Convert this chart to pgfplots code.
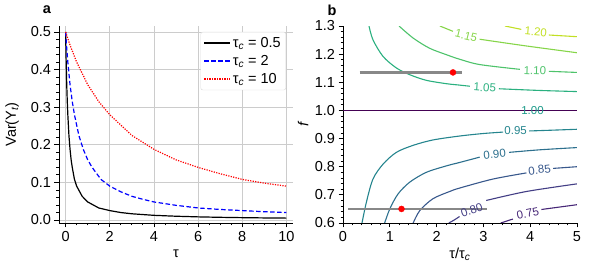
\documentclass[border=0pt]{standalone}
\usepackage{fontspec}
\setmainfont{Liberation Sans}
\usepackage{pgfplots}
\pgfplotsset{compat=1.18}
\definecolor{cA}{HTML}{472777}
\definecolor{cB}{HTML}{433E85}
\definecolor{cC}{HTML}{38588C}
\definecolor{cD}{HTML}{2D708E}
\definecolor{cE}{HTML}{25858E}
\definecolor{cF}{HTML}{1E9B8A}
\definecolor{cG}{HTML}{2AB07F}
\definecolor{cH}{HTML}{4EC36B}
\definecolor{cI}{HTML}{86D549}
\definecolor{cJ}{HTML}{C2DF23}
\definecolor{cLine}{HTML}{440154}
\definecolor{bargray}{HTML}{888888}
\newcommand{\fs}{\fontsize{14.5}{16.5}\selectfont}
\newcommand{\fl}{\fontsize{11.5}{13}\selectfont}
\pgfplotsset{
  myax/.style={
    scale only axis, width=234pt, height=197pt,
    axis lines=left, axis line style={-, line width=0.9pt, black},
    tick align=outside, tick style={black, line width=0.8pt},
    major tick length=4.5pt, minor tick length=2.5pt,
    tick label style={font=\fs},
    label style={font=\fs},
    /pgf/number format/assume math mode=true,
  }
}
\begin{document}
\begin{tikzpicture}
\useasboundingbox (-59pt,-41pt) rectangle (536pt,223pt);
\begin{axis}[myax,
  xmin=-0.3, xmax=10.3, ymin=-0.008, ymax=0.516,
  xtick={0,2,4,6,8,10}, minor x tick num=3,
  ytick={0,0.1,0.2,0.3,0.4,0.5}, minor y tick num=4,
  yticklabel style={/pgf/number format/.cd, fixed, fixed zerofill, precision=1},
  grid=major, major grid style={gray!40, line width=0.8pt},
  xlabel={τ}, ylabel={Var(Y\textsubscript{\itshape t})},
  xlabel style={at={(axis description cs:0.5,-0.155)}, anchor=center},
  ylabel style={at={(axis description cs:-0.2,0.5)}, anchor=center},
  legend style={at={(0.97,0.97)}, anchor=north east, draw=gray!30, rounded corners=2pt,
    fill=white, font=\fs, row sep=2.5pt, inner sep=3pt},
  legend cell align=left,
  legend image code/.code={\draw[#1, line width=1.4pt] (0cm,0cm) -- (0.9cm,0cm);},
]
\addplot[black, line width=1.2pt] coordinates {
(0,0.5) (0.01,0.465) (0.025,0.42) (0.05,0.36) (0.075,0.315) (0.1,0.28) (0.15,0.225)
(0.2,0.188) (0.25,0.16) (0.3,0.14) (0.4,0.108) (0.5,0.09) (0.75,0.063) (1,0.048)
(1.5,0.032) (2,0.025) (2.5,0.0198) (3,0.0165) (4,0.0124) (5,0.01) (6,0.0083)
(7,0.0071) (8,0.0062) (9,0.0055) (10,0.005)};
\addlegendentry{τ\textsubscript{\itshape c} = 0.5}
\addplot[blue, line width=1.2pt, dash pattern=on 4.5pt off 2.5pt] coordinates {
(0,0.5) (0.04,0.465) (0.1,0.42) (0.2,0.36) (0.3,0.315) (0.4,0.28) (0.6,0.225)
(0.8,0.188) (1,0.16) (1.2,0.14) (1.6,0.108) (2,0.09) (2.5,0.075) (3,0.063) (3.5,0.055) (4,0.048)
(5,0.039) (6,0.032) (7,0.028) (8,0.025) (9,0.022) (10,0.0198)};
\addlegendentry{τ\textsubscript{\itshape c} = 2}
\addplot[red, line width=1.2pt, dash pattern=on 1.2pt off 1.3pt] coordinates {
(0,0.5) (0.2,0.465) (0.5,0.42) (1,0.36) (1.5,0.315) (2,0.28) (3,0.225) (4,0.188)
(5,0.16) (6,0.14) (7,0.123) (8,0.108) (9,0.098) (10,0.09)};
\addlegendentry{τ\textsubscript{\itshape c} = 10}
\end{axis}
\node[font=\bfseries\fs] at (-12pt,213pt) {a};
\node[font=\bfseries\fs] at (273pt,213pt) {b};
\begin{axis}[myax, at={(284pt,0pt)},
  xmin=0, xmax=5, ymin=0.6, ymax=1.3,
  xtick={0,1,2,3,4,5}, minor x tick num=4,
  ytick={0.6,0.7,0.8,0.9,1.0,1.1,1.2,1.3}, minor y tick num=4,
  yticklabel style={/pgf/number format/.cd, fixed, fixed zerofill, precision=1},
  xlabel={τ/τ\textsubscript{\itshape c}}, ylabel={\itshape f},
  xlabel style={at={(axis description cs:0.5,-0.16)}, anchor=center},
  ylabel style={at={(axis description cs:-0.17,0.5)}, anchor=center},
]
% lower contours
\addplot[cE, line width=1.1pt, smooth] coordinates {(0.406,0.6) (0.50,0.674) (0.64,0.756) (0.855,0.809) (1.14,0.851) (1.50,0.876) (1.92,0.895) (2.49,0.909) (3.0,0.918) (3.42,0.923)};
\addplot[cE, line width=1.1pt, smooth] coordinates {(3.98,0.927) (4.5,0.930) (5,0.933)};
\addplot[cD, line width=1.1pt, smooth] coordinates {(0.89,0.6) (1.0,0.650) (1.175,0.703) (1.425,0.745) (1.78,0.780) (2.21,0.803) (2.49,0.815) (2.92,0.834)};
\addplot[cD, line width=1.1pt, smooth] coordinates {(3.55,0.851) (4.2,0.860) (5,0.868)};
\addplot[cC, line width=1.1pt, smooth] coordinates {(1.50,0.6) (1.64,0.644) (1.92,0.686) (2.28,0.712) (2.49,0.724) (3.20,0.756) (3.92,0.778)};
\addplot[cC, line width=1.1pt, smooth] coordinates {(4.49,0.794) (5,0.800)};
\addplot[cB, line width=1.1pt, smooth] coordinates {(2.26,0.6) (2.36,0.609) (2.49,0.623)};
\addplot[cB, line width=1.1pt, smooth] coordinates {(3.06,0.680) (3.92,0.712) (5,0.739)};
\addplot[cA, line width=1.1pt, smooth] coordinates {(3.37,0.6) (3.63,0.614)};
\addplot[cA, line width=1.1pt, smooth] coordinates {(4.24,0.648) (5,0.665)};
% upper contours
\addplot[cG, line width=1.1pt, smooth] coordinates {(0.556,1.3) (0.64,1.251) (0.855,1.192) (1.14,1.151) (1.425,1.127) (1.78,1.107) (2.21,1.095) (2.49,1.090) (2.71,1.086)};
\addplot[cG, line width=1.1pt, smooth] coordinates {(3.33,1.077) (4.2,1.071) (5,1.067)};
\addplot[cH, line width=1.1pt, smooth] coordinates {(1.197,1.3) (1.50,1.257) (1.85,1.221) (2.21,1.198) (2.49,1.182) (2.92,1.163) (3.78,1.146)};
\addplot[cH, line width=1.1pt, smooth] coordinates {(4.40,1.139) (5,1.135)};
\addplot[cI, line width=1.1pt, smooth] coordinates {(2.07,1.3) (2.35,1.281)};
\addplot[cI, line width=1.1pt, smooth] coordinates {(2.92,1.253) (3.92,1.229) (5,1.205)};
\addplot[cJ, line width=1.1pt, smooth] coordinates {(3.46,1.3) (3.81,1.288)};
\addplot[cJ, line width=1.1pt, smooth] coordinates {(4.40,1.268) (5,1.262)};
\addplot[cLine, line width=1.2pt] coordinates {(0,1.0) (5,1.0)};
% bars and points
\addplot[bargray, line width=2.8pt] coordinates {(0.357,1.135) (2.55,1.135)};
\addplot[bargray, line width=2.8pt] coordinates {(0.107,0.650) (3.08,0.650)};
\addplot[only marks, mark=*, mark size=3pt, red, mark options={draw=red, fill=red}] coordinates {(2.35,1.135) (1.25,0.650)};
% labels
\node[font=\fl, text=cE] at (axis cs:3.69,0.927) {0.95};
\node[font=\fl, text=cD, rotate=6] at (axis cs:3.24,0.845) {0.90};
\node[font=\fl, text=cC, rotate=7] at (axis cs:4.20,0.789) {0.85};
\node[font=\fl, text=cB, rotate=20] at (axis cs:2.75,0.645) {0.80};
\node[font=\fl, text=cA, rotate=12] at (axis cs:3.95,0.633) {0.75};
\node[font=\fl, text=cF] at (axis cs:4.05,1.0) {1.00};
\node[font=\fl, text=cG, rotate=-4] at (axis cs:3.03,1.081) {1.05};
\node[font=\fl, text=cH, rotate=-2] at (axis cs:4.10,1.142) {1.10};
\node[font=\fl, text=cI, rotate=-14] at (axis cs:2.63,1.265) {1.15};
\node[font=\fl, text=cJ, rotate=-5] at (axis cs:4.12,1.279) {1.20};
\end{axis}
\end{tikzpicture}
\end{document}
